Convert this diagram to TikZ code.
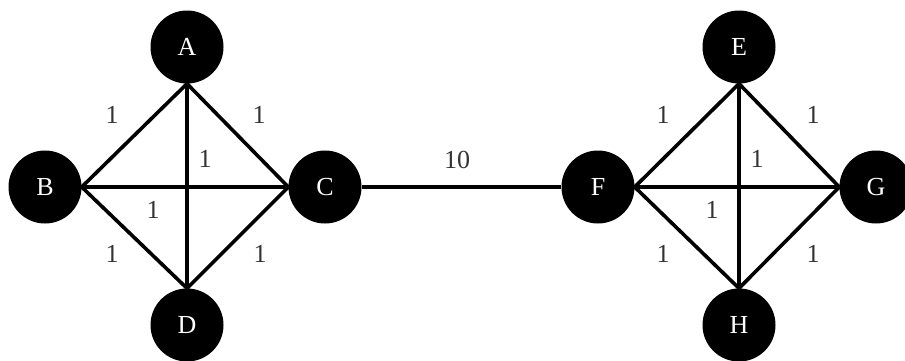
\documentclass[tikz,border=0pt]{standalone}
\usepackage{fontspec}
\setmainfont{Liberation Serif}
\usepackage{tikz}
\usetikzlibrary{positioning}
\tikzset{
  netnode/.style={circle,fill=black,draw=none,inner sep=0pt,minimum size=73pt,text=white,font=\fontsize{26}{28}\selectfont},
  netedge/.style={line width=3.6pt},
  netlabel/.style={inner sep=1pt,text=black!80,font=\fontsize{26}{28}\selectfont},
}
\begin{document}
\begin{tikzpicture}[x=1pt,y=-1pt]
\useasboundingbox (0,0) rectangle (905,360);
% left cluster
\node[netnode] (a) at (187,47) {A};
\node[netnode] (b) at (45,187) {B};
\node[netnode] (c) at (325,187) {C};
\node[netnode] (d) at (187,325) {D};
% right cluster
\node[netnode] (e) at (739,47) {E};
\node[netnode] (f) at (598,187) {F};
\node[netnode] (g) at (876,187) {G};
\node[netnode] (h) at (739,325) {H};
% edges
\draw[netedge] (a.south)--(b.east) (a.south)--(c.west) (a.south)--(d.north)
  (b.east)--(c.west) (b.east)--(d.north) (c.west)--(d.north);
\draw[netedge] (e.south)--(f.east) (e.south)--(g.west) (e.south)--(h.north)
  (f.east)--(g.west) (f.east)--(h.north) (g.west)--(h.north);
\draw[netedge] (c.east)--(f.west);
% weights
\node[netlabel] (wab) at (112,115) {1};
\node[netlabel] (wac) at (259,115) {1};
\node[netlabel] (wad) at (205,159) {1};
\node[netlabel] (wbc) at (153,210) {1};
\node[netlabel] (wbd) at (112,254) {1};
\node[netlabel] (wcd) at (260,254) {1};
\node[netlabel] (wcf) at (457,160) {10};
\node[netlabel] (wef) at (663,115) {1};
\node[netlabel] (weg) at (813,115) {1};
\node[netlabel] (weh) at (757,159) {1};
\node[netlabel] (wfg) at (712,210) {1};
\node[netlabel] (wfh) at (663,254) {1};
\node[netlabel] (wgh) at (813,254) {1};
\end{tikzpicture}
\end{document}
